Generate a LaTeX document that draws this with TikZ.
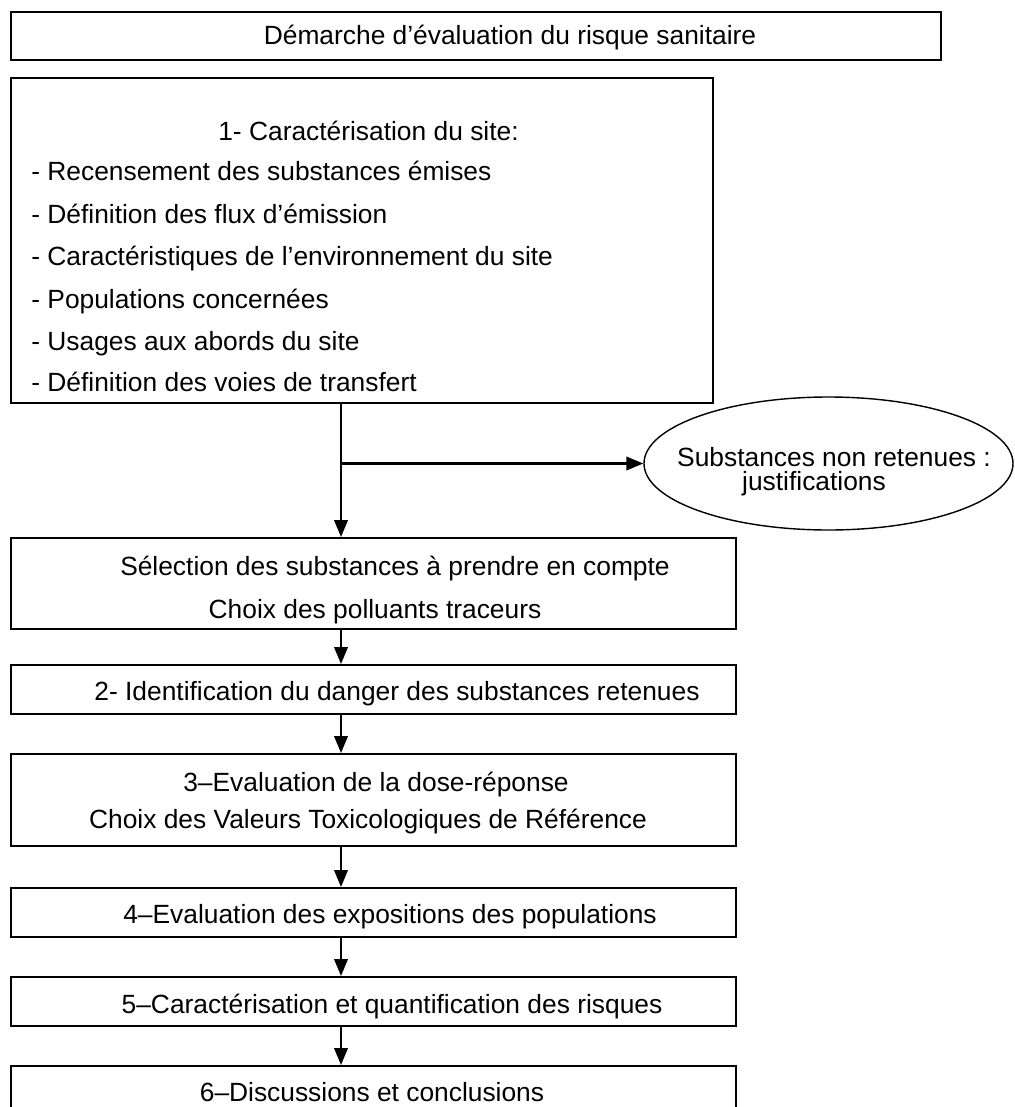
\documentclass[tikz,border=0pt]{standalone}
\usepackage{fontspec}
\setmainfont{Liberation Sans}
\usetikzlibrary{arrows.meta, shapes.geometric}

\begin{document}
\begin{tikzpicture}[
    every node/.style={font=\fontsize{15}{18}\selectfont},
    stagebox/.style={draw, line width=1.1pt, inner sep=0pt, minimum width=14.50cm},
    txt/.style={anchor=base, inner sep=0pt},
    bullet/.style={anchor=base west, inner sep=0pt},
    arrow/.style={-{Triangle[length=0.34cm,width=0.27cm]}, line width=1.3pt}
]
\useasboundingbox (0,0) rectangle (20.30,-22.14);
% boxes
\node[stagebox, minimum width=18.60cm, minimum height=0.96cm] (title) at (9.52,-0.72) {};
\node[stagebox, minimum width=14.04cm, minimum height=6.50cm] (site) at (7.24,-4.81) {};
\node[stagebox, minimum height=1.82cm] (select) at (7.47,-11.67) {};
\node[stagebox, minimum height=0.98cm] (hazard) at (7.47,-13.79) {};
\node[stagebox, minimum height=1.84cm] (dose) at (7.47,-16.00) {};
\node[stagebox, minimum height=0.98cm] (expo) at (7.47,-18.25) {};
\node[stagebox, minimum height=0.98cm] (risk) at (7.47,-20.03) {};
\node[stagebox, minimum height=0.98cm] (concl) at (7.47,-21.81) {};
\node[draw, ellipse, line width=0.8pt, inner sep=0pt, minimum width=7.38cm, minimum height=2.66cm] (rejected) at (16.57,-9.27) {};
% texts
\node[txt] (titletxt) at (10.20,-0.88) {Démarche d’évaluation du risque sanitaire};
\node[txt] (sitehead) at (7.37,-2.80) {1- Caractérisation du site:};
\node[bullet] (site1) at (0.62,-3.60) {- Recensement des substances émises};
\node[bullet] (site2) at (0.62,-4.46) {- Définition des flux d’émission};
\node[bullet] (site3) at (0.62,-5.30) {- Caractéristiques de l’environnement du site};
\node[bullet] (site4) at (0.62,-6.16) {- Populations concernées};
\node[bullet] (site5) at (0.62,-7.00) {- Usages aux abords du site};
\node[bullet] (site6) at (0.62,-7.82) {- Définition des voies de transfert};
\node[txt] (rejtxt1) at (16.68,-9.32) {Substances non retenues :};
\node[txt] (rejtxt2) at (16.28,-9.80) {justifications};
\node[txt] (seltxt1) at (7.90,-11.50) {Sélection des substances à prendre en compte};
\node[txt] (seltxt2) at (7.50,-12.36) {Choix des polluants traceurs};
\node[txt] (haztxt) at (7.94,-14.00) {2- Identification du danger des substances retenues};
\node[txt] (dosetxt1) at (7.52,-15.82) {3–Evaluation de la dose-réponse};
\node[txt] (dosetxt2) at (7.36,-16.56) {Choix des Valeurs Toxicologiques de Référence};
\node[txt] (expotxt) at (7.80,-18.46) {4–Evaluation des expositions des populations};
\node[txt] (risktxt) at (7.84,-20.26) {5–Caractérisation et quantification des risques};
\node[txt] (concltxt) at (7.44,-22.02) {6–Discussions et conclusions};
% connectors
\coordinate (spine) at (6.82,0);
\draw[arrow] (site.south -| spine) -- (select.north -| spine);
\draw[arrow] (spine |- rejected.west) -- (rejected.west);
\draw[arrow] (select.south -| spine) -- (hazard.north -| spine);
\draw[arrow] (hazard.south -| spine) -- (dose.north -| spine);
\draw[arrow] (dose.south -| spine) -- (expo.north -| spine);
\draw[arrow] (expo.south -| spine) -- (risk.north -| spine);
\draw[arrow] (risk.south -| spine) -- (concl.north -| spine);
\end{tikzpicture}
\end{document}
